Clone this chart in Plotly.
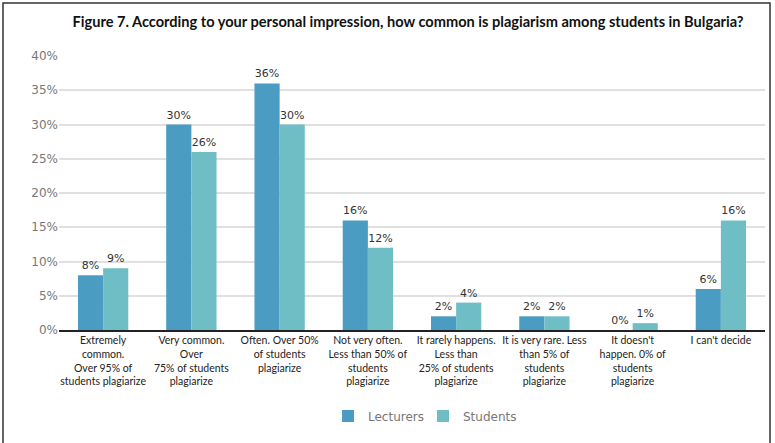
import plotly.graph_objects as go

categories = [
    "Extremely<br>common.<br>Over 95% of<br>students plagiarize",
    "Very common.<br>Over<br>75% of students<br>plagiarize",
    "Often. Over 50%<br>of students<br>plagiarize",
    "Not very often.<br>Less than 50% of<br>students<br>plagiarize",
    "It rarely happens.<br>Less than<br>25% of students<br>plagiarize",
    "It is very rare. Less<br>than 5% of<br>students<br>plagiarize",
    "It doesn't<br>happen. 0% of<br>students<br>plagiarize",
    "I can't decide",
]
lecturers = [8, 30, 36, 16, 2, 2, 0, 6]
students = [9, 26, 30, 12, 4, 2, 1, 16]
y_ticks = [0, 5, 10, 15, 20, 25, 30, 35, 40]

W, H = 775, 443
ML, MR, MT, MB = 59, 10, 56, 113
pw, ph = W - ML - MR, H - MT - MB

def px_x(p):
    return (p - ML) / pw

def px_y(p):
    return (H - MB - p) / ph

label_font = dict(family="DejaVu Sans", size=11, color="#333333")

fig = go.Figure()
fig.add_trace(go.Bar(
    x=categories, y=lecturers, name="Lecturers",
    marker=dict(color="#4a9cc3", line=dict(width=0)),
    text=[f"{v}%" for v in lecturers], textposition="outside",
    textfont=label_font, cliponaxis=False,
))
fig.add_trace(go.Bar(
    x=categories, y=students, name="Students",
    marker=dict(color="#70bec5", line=dict(width=0)),
    text=[f"{v}%" for v in students], textposition="outside",
    textfont=label_font, cliponaxis=False,
))

fig.update_layout(
    width=W, height=H,
    margin=dict(l=ML, r=MR, t=MT, b=MB),
    paper_bgcolor="white", plot_bgcolor="white",
    barmode="group", bargap=0.43, bargroupgap=0,
    title=dict(
        text="<b>Figure 7. According to your personal impression, how common is plagiarism among students in Bulgaria?</b>",
        x=408 / W, xanchor="center", y=1 - 22 / H, yanchor="middle",
        font=dict(family="Lato", size=14.6, color="#111111"),
    ),
    showlegend=True,
    legend=dict(
        orientation="h", x=px_x(328), xanchor="left", y=px_y(416), yanchor="middle",
        font=dict(family="DejaVu Sans", size=12, color="#777777"),
        itemwidth=30, traceorder="normal", entrywidthmode="pixels", entrywidth=50,
    ),
    xaxis=dict(
        tickfont=dict(family="Lato", size=10.5, color="#222222"),
        showline=True, linecolor="#222222", linewidth=1.5,
        ticks="", showgrid=False,
    ),
    yaxis=dict(
        range=[0, 40], tickvals=y_ticks, ticktext=[f"{v}%" for v in y_ticks],
        tickfont=dict(family="DejaVu Sans", size=12, color="#777777"),
        showgrid=True, gridcolor="#e0e0e0", gridwidth=1.5,
        zeroline=False, ticks="", ticklen=0,
    ),
    shapes=[dict(
        type="rect", xref="paper", yref="paper",
        x0=px_x(3), x1=px_x(770), y0=px_y(460), y1=px_y(3),
        line=dict(color="#333333", width=1.5), fillcolor="rgba(0,0,0,0)", layer="below",
    )],
)

fig.write_html("out.html")
